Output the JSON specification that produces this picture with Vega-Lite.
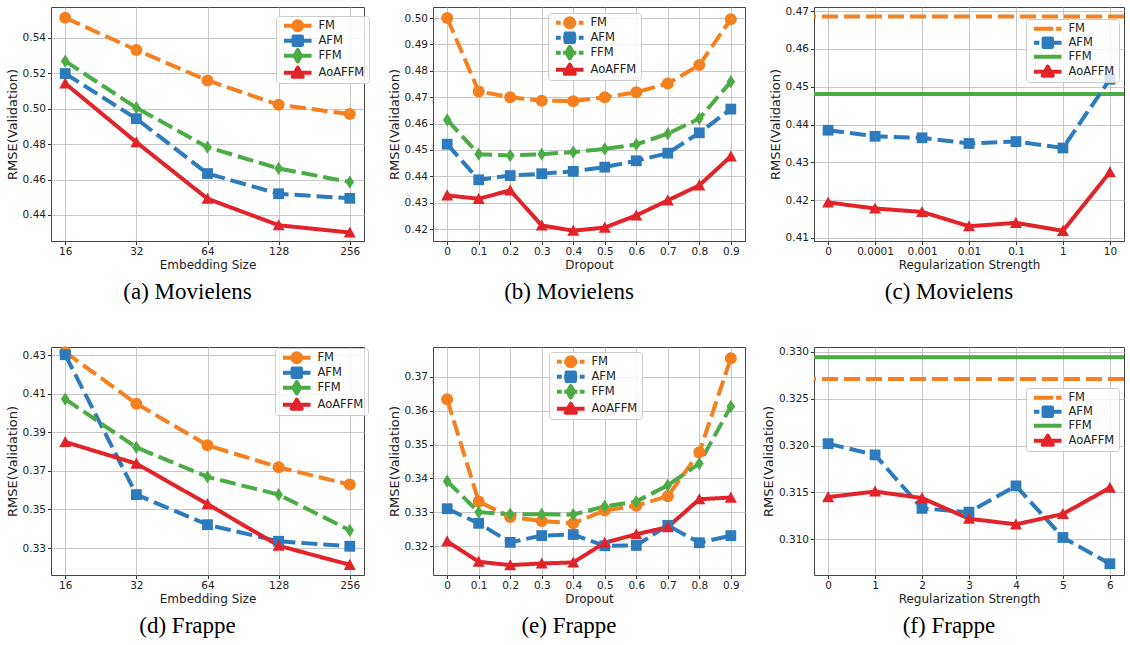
{
"$schema":"https://vega.github.io/schema/vega-lite/v6.json",
"background":"white",
"datasets":{
"a":[
{"s":"FM","x":"16","y":0.5514},{"s":"FM","x":"32","y":0.5332},{"s":"FM","x":"64","y":0.516},{"s":"FM","x":"128","y":0.5023},{"s":"FM","x":"256","y":0.497},
{"s":"AFM","x":"16","y":0.5199},{"s":"AFM","x":"32","y":0.4944},{"s":"AFM","x":"64","y":0.4634},{"s":"AFM","x":"128","y":0.452},{"s":"AFM","x":"256","y":0.4494},
{"s":"FFM","x":"16","y":0.5269},{"s":"FFM","x":"32","y":0.5006},{"s":"FFM","x":"64","y":0.4783},{"s":"FFM","x":"128","y":0.4663},{"s":"FFM","x":"256","y":0.4586},
{"s":"AoAFFM","x":"16","y":0.5143},{"s":"AoAFFM","x":"32","y":0.4811},{"s":"AoAFFM","x":"64","y":0.4492},{"s":"AoAFFM","x":"128","y":0.4342},{"s":"AoAFFM","x":"256","y":0.4301}],
"b":[
{"s":"FM","x":"0","y":0.5},{"s":"FM","x":"0.1","y":0.4722},{"s":"FM","x":"0.2","y":0.47},{"s":"FM","x":"0.3","y":0.4687},{"s":"FM","x":"0.4","y":0.4685},{"s":"FM","x":"0.5","y":0.47},{"s":"FM","x":"0.6","y":0.4719},{"s":"FM","x":"0.7","y":0.4752},{"s":"FM","x":"0.8","y":0.4822},{"s":"FM","x":"0.9","y":0.4996},
{"s":"AFM","x":"0","y":0.4522},{"s":"AFM","x":"0.1","y":0.4387},{"s":"AFM","x":"0.2","y":0.4403},{"s":"AFM","x":"0.3","y":0.441},{"s":"AFM","x":"0.4","y":0.4419},{"s":"AFM","x":"0.5","y":0.4435},{"s":"AFM","x":"0.6","y":0.4459},{"s":"AFM","x":"0.7","y":0.4488},{"s":"AFM","x":"0.8","y":0.4565},{"s":"AFM","x":"0.9","y":0.4655},
{"s":"FFM","x":"0","y":0.4614},{"s":"FFM","x":"0.1","y":0.4484},{"s":"FFM","x":"0.2","y":0.4479},{"s":"FFM","x":"0.3","y":0.4484},{"s":"FFM","x":"0.4","y":0.4492},{"s":"FFM","x":"0.5","y":0.4504},{"s":"FFM","x":"0.6","y":0.4521},{"s":"FFM","x":"0.7","y":0.4562},{"s":"FFM","x":"0.8","y":0.4619},{"s":"FFM","x":"0.9","y":0.4759},
{"s":"AoAFFM","x":"0","y":0.4328},{"s":"AoAFFM","x":"0.1","y":0.4315},{"s":"AoAFFM","x":"0.2","y":0.4347},{"s":"AoAFFM","x":"0.3","y":0.4214},{"s":"AoAFFM","x":"0.4","y":0.4194},{"s":"AoAFFM","x":"0.5","y":0.4206},{"s":"AoAFFM","x":"0.6","y":0.4252},{"s":"AoAFFM","x":"0.7","y":0.4309},{"s":"AoAFFM","x":"0.8","y":0.4366},{"s":"AoAFFM","x":"0.9","y":0.4476}],
"c":[
{"s":"FM","x":"0","y":0.4686},{"s":"FFM","x":"0","y":0.4481},
{"s":"AFM","x":"0","y":0.4385},{"s":"AFM","x":"0.0001","y":0.4369},{"s":"AFM","x":"0.001","y":0.4365},{"s":"AFM","x":"0.01","y":0.435},{"s":"AFM","x":"0.1","y":0.4355},{"s":"AFM","x":"1","y":0.4338},{"s":"AFM","x":"10","y":0.452},
{"s":"AoAFFM","x":"0","y":0.4194},{"s":"AoAFFM","x":"0.0001","y":0.4178},{"s":"AoAFFM","x":"0.001","y":0.4169},{"s":"AoAFFM","x":"0.01","y":0.4131},{"s":"AoAFFM","x":"0.1","y":0.414},{"s":"AoAFFM","x":"1","y":0.4119},{"s":"AoAFFM","x":"10","y":0.4274}],
"d":[
{"s":"FM","x":"16","y":0.4316},{"s":"FM","x":"32","y":0.4049},{"s":"FM","x":"64","y":0.3833},{"s":"FM","x":"128","y":0.3719},{"s":"FM","x":"256","y":0.3629},
{"s":"AFM","x":"16","y":0.4303},{"s":"AFM","x":"32","y":0.3577},{"s":"AFM","x":"64","y":0.3421},{"s":"AFM","x":"128","y":0.3335},{"s":"AFM","x":"256","y":0.3309},
{"s":"FFM","x":"16","y":0.4073},{"s":"FFM","x":"32","y":0.3822},{"s":"FFM","x":"64","y":0.3669},{"s":"FFM","x":"128","y":0.3577},{"s":"FFM","x":"256","y":0.3392},
{"s":"AoAFFM","x":"16","y":0.385},{"s":"AoAFFM","x":"32","y":0.3738},{"s":"AoAFFM","x":"64","y":0.3528},{"s":"AoAFFM","x":"128","y":0.3312},{"s":"AoAFFM","x":"256","y":0.3213}],
"e":[
{"s":"FM","x":"0","y":0.3633},{"s":"FM","x":"0.1","y":0.3332},{"s":"FM","x":"0.2","y":0.3287},{"s":"FM","x":"0.3","y":0.3275},{"s":"FM","x":"0.4","y":0.3268},{"s":"FM","x":"0.5","y":0.3306},{"s":"FM","x":"0.6","y":0.332},{"s":"FM","x":"0.7","y":0.3348},{"s":"FM","x":"0.8","y":0.3477},{"s":"FM","x":"0.9","y":0.3754},
{"s":"AFM","x":"0","y":0.3311},{"s":"AFM","x":"0.1","y":0.3268},{"s":"AFM","x":"0.2","y":0.3212},{"s":"AFM","x":"0.3","y":0.3232},{"s":"AFM","x":"0.4","y":0.3235},{"s":"AFM","x":"0.5","y":0.3202},{"s":"AFM","x":"0.6","y":0.3203},{"s":"AFM","x":"0.7","y":0.3262},{"s":"AFM","x":"0.8","y":0.3211},{"s":"AFM","x":"0.9","y":0.3232},
{"s":"FFM","x":"0","y":0.3392},{"s":"FFM","x":"0.1","y":0.3301},{"s":"FFM","x":"0.2","y":0.3295},{"s":"FFM","x":"0.3","y":0.3295},{"s":"FFM","x":"0.4","y":0.3294},{"s":"FFM","x":"0.5","y":0.3318},{"s":"FFM","x":"0.6","y":0.3332},{"s":"FFM","x":"0.7","y":0.338},{"s":"FFM","x":"0.8","y":0.3444},{"s":"FFM","x":"0.9","y":0.3612},
{"s":"AoAFFM","x":"0","y":0.3215},{"s":"AoAFFM","x":"0.1","y":0.3155},{"s":"AoAFFM","x":"0.2","y":0.3145},{"s":"AoAFFM","x":"0.3","y":0.315},{"s":"AoAFFM","x":"0.4","y":0.3153},{"s":"AoAFFM","x":"0.5","y":0.3211},{"s":"AoAFFM","x":"0.6","y":0.3236},{"s":"AoAFFM","x":"0.7","y":0.3257},{"s":"AoAFFM","x":"0.8","y":0.3339},{"s":"AoAFFM","x":"0.9","y":0.3344}],
"f":[
{"s":"FFM","x":"0","y":0.3294},{"s":"FM","x":"0","y":0.3271},
{"s":"AFM","x":"0","y":0.3202},{"s":"AFM","x":"1","y":0.319},{"s":"AFM","x":"2","y":0.3133},{"s":"AFM","x":"3","y":0.3129},{"s":"AFM","x":"4","y":0.3157},{"s":"AFM","x":"5","y":0.3102},{"s":"AFM","x":"6","y":0.3074},
{"s":"AoAFFM","x":"0","y":0.3145},{"s":"AoAFFM","x":"1","y":0.3151},{"s":"AoAFFM","x":"2","y":0.3144},{"s":"AoAFFM","x":"3","y":0.3122},{"s":"AoAFFM","x":"4","y":0.3116},{"s":"AoAFFM","x":"5","y":0.3127},{"s":"AoAFFM","x":"6","y":0.3155}]
},
"concat":[
{"width":313,"height":234,"data":{"name":"a"},"title":"(a) Movielens",
 "encoding":{"y":{"field":"y","type":"quantitative","scale":{"domain":[0.4253,0.5575],"nice":false,"zero":false},"axis":{"title":"RMSE(Validation)","values":[0.44,0.46,0.48,0.5,0.52,0.54],"format":".2f"}}},
 "layer":[
  {"mark":{"type":"line","strokeWidth":4},"encoding":{"x":{"field":"x","type":"ordinal","sort":null,"scale":{"type":"point","padding":0.2,"domain":["16","32","64","128","256"]},"axis":{"title":"Embedding Size"}},"color":{"field":"s","type":"nominal","scale":{"domain":["FM","AFM","FFM","AoAFFM"],"range":["#f5801f","#2d7bbd","#4bab45","#e2232a"]},"legend":null},"strokeDash":{"field":"s","type":"nominal","scale":{"domain":["FM","AFM","FFM","AoAFFM"],"range":[[16,6],[16,6],[16,6],[1,0]]},"legend":null}}},
  {"mark":{"type":"point","filled":true,"opacity":1,"size":144},"encoding":{"x":{"field":"x","type":"ordinal","sort":null,"scale":{"type":"point","padding":0.2,"domain":["16","32","64","128","256"]},"axis":{"title":"Embedding Size"}},"color":{"field":"s","type":"nominal","scale":{"domain":["FM","AFM","FFM","AoAFFM"],"range":["#f5801f","#2d7bbd","#4bab45","#e2232a"]},"legend":null},"shape":{"field":"s","type":"nominal","scale":{"domain":["FM","AFM","FFM","AoAFFM"],"range":["circle","M-0.9,-0.9H0.9V0.9H-0.9Z","M0,-1.1L0.72,0L0,1.1L-0.72,0Z","M0,-1L1,0.85L-1,0.85Z"]},"legend":null}}},
  {"transform":[{"filter":"false"}],"mark":{"type":"point","filled":true},"encoding":{
   "fill":{"field":"s","type":"nominal","scale":{"domain":["FM","AFM","FFM","AoAFFM"],"range":["#f5801f","#2d7bbd","#4bab45","#e2232a"]},"legend":{"orient":"none","legendX":225,"legendY":9,"title":null,"encode":{"symbols":{"update":{"strokeJoin":{"value":"round"}}}}}},
   "stroke":{"field":"s","type":"nominal","scale":{"domain":["FM","AFM","FFM","AoAFFM"],"range":["#f5801f","#2d7bbd","#4bab45","#e2232a"]},"legend":{"orient":"none","legendX":225,"legendY":9,"title":null,"encode":{"symbols":{"update":{"strokeJoin":{"value":"round"}}}}}},
   "shape":{"field":"s","type":"nominal","scale":{"domain":["FM","AFM","FFM","AoAFFM"],"range":["M-4.6,0H4.6M1.5,0A1.5,1.5,0,1,1,-1.5,0A1.5,1.5,0,1,1,1.5,0Z","M-4.6,0H4.6M-1.4,-1.4H1.4V1.4H-1.4Z","M-4.6,0H4.6M0,-1.9L1.1,0L0,1.9L-1.1,0Z","M-4.6,0H4.6M0,-1.7L1.7,1.3L-1.7,1.3Z"]},"legend":{"orient":"none","legendX":225,"legendY":9,"title":null,"encode":{"symbols":{"update":{"strokeJoin":{"value":"round"}}}}}}}}
 ],
 "resolve":{"scale":{"shape":"independent","fill":"independent","stroke":"independent"}}},
{"width":312,"height":234,"data":{"name":"b"},"title":"(b) Movielens",
 "encoding":{"y":{"field":"y","type":"quantitative","scale":{"domain":[0.4155,0.5042],"nice":false,"zero":false},"axis":{"title":"RMSE(Validation)","values":[0.42,0.43,0.44,0.45,0.46,0.47,0.48,0.49,0.5],"format":".2f"}}},
 "layer":[
  {"mark":{"type":"line","strokeWidth":4},"encoding":{"x":{"field":"x","type":"ordinal","sort":null,"scale":{"type":"point","padding":0.45,"domain":["0","0.1","0.2","0.3","0.4","0.5","0.6","0.7","0.8","0.9"]},"axis":{"title":"Dropout"}},"color":{"field":"s","type":"nominal","scale":{"domain":["FM","AFM","FFM","AoAFFM"],"range":["#f5801f","#2d7bbd","#4bab45","#e2232a"]},"legend":null},"strokeDash":{"field":"s","type":"nominal","scale":{"domain":["FM","AFM","FFM","AoAFFM"],"range":[[16,6],[16,6],[16,6],[1,0]]},"legend":null}}},
  {"mark":{"type":"point","filled":true,"opacity":1,"size":144},"encoding":{"x":{"field":"x","type":"ordinal","sort":null,"scale":{"type":"point","padding":0.45,"domain":["0","0.1","0.2","0.3","0.4","0.5","0.6","0.7","0.8","0.9"]},"axis":{"title":"Dropout"}},"color":{"field":"s","type":"nominal","scale":{"domain":["FM","AFM","FFM","AoAFFM"],"range":["#f5801f","#2d7bbd","#4bab45","#e2232a"]},"legend":null},"shape":{"field":"s","type":"nominal","scale":{"domain":["FM","AFM","FFM","AoAFFM"],"range":["circle","M-0.9,-0.9H0.9V0.9H-0.9Z","M0,-1.1L0.72,0L0,1.1L-0.72,0Z","M0,-1L1,0.85L-1,0.85Z"]},"legend":null}}},
  {"transform":[{"filter":"false"}],"mark":{"type":"point","filled":true},"encoding":{
   "fill":{"field":"s","type":"nominal","scale":{"domain":["FM","AFM","FFM","AoAFFM"],"range":["#f5801f","#2d7bbd","#4bab45","#e2232a"]},"legend":{"orient":"none","legendX":115,"legendY":6,"title":null,"encode":{"symbols":{"update":{"strokeJoin":{"value":"round"}}}}}},
   "stroke":{"field":"s","type":"nominal","scale":{"domain":["FM","AFM","FFM","AoAFFM"],"range":["#f5801f","#2d7bbd","#4bab45","#e2232a"]},"legend":{"orient":"none","legendX":115,"legendY":6,"title":null,"encode":{"symbols":{"update":{"strokeJoin":{"value":"round"}}}}}},
   "shape":{"field":"s","type":"nominal","scale":{"domain":["FM","AFM","FFM","AoAFFM"],"range":["M-4.6,0H-3M-2.2,0H2.2M3,0H4.6M1.5,0A1.5,1.5,0,1,1,-1.5,0A1.5,1.5,0,1,1,1.5,0Z","M-4.6,0H-3M-2.2,0H2.2M3,0H4.6M-1.4,-1.4H1.4V1.4H-1.4Z","M-4.6,0H-3M-2.2,0H2.2M3,0H4.6M0,-1.9L1.1,0L0,1.9L-1.1,0Z","M-4.6,0H4.6M0,-1.7L1.7,1.3L-1.7,1.3Z"]},"legend":{"orient":"none","legendX":115,"legendY":6,"title":null,"encode":{"symbols":{"update":{"strokeJoin":{"value":"round"}}}}}}}}
 ],
 "resolve":{"scale":{"shape":"independent","fill":"independent","stroke":"independent"}}},
{"width":310,"height":234,"data":{"name":"c"},"title":"(c) Movielens",
 "encoding":{"y":{"field":"y","type":"quantitative","scale":{"domain":[0.4092,0.4711],"nice":false,"zero":false},"axis":{"title":"RMSE(Validation)","values":[0.41,0.42,0.43,0.44,0.45,0.46,0.47],"format":".2f"}}},
 "layer":[
  {"transform":[{"filter":"datum.s==='FM'||datum.s==='FFM'"}],"mark":{"type":"rule","strokeWidth":4},"encoding":{"color":{"field":"s","type":"nominal","scale":{"domain":["FM","AFM","FFM","AoAFFM"],"range":["#f5801f","#2d7bbd","#4bab45","#e2232a"]},"legend":null},"strokeDash":{"field":"s","type":"nominal","scale":{"domain":["FM","AFM","FFM","AoAFFM"],"range":[[16,6],[16,6],[1,0],[1,0]]},"legend":null}}},
  {"transform":[{"filter":"datum.s==='AFM'||datum.s==='AoAFFM'"}],"mark":{"type":"line","strokeWidth":4},"encoding":{"x":{"field":"x","type":"ordinal","sort":null,"scale":{"type":"point","padding":0.3,"domain":["0","0.0001","0.001","0.01","0.1","1","10"]},"axis":{"title":"Regularization Strength"}},"color":{"field":"s","type":"nominal","scale":{"domain":["FM","AFM","FFM","AoAFFM"],"range":["#f5801f","#2d7bbd","#4bab45","#e2232a"]},"legend":null},"strokeDash":{"field":"s","type":"nominal","scale":{"domain":["FM","AFM","FFM","AoAFFM"],"range":[[16,6],[16,6],[1,0],[1,0]]},"legend":null}}},
  {"transform":[{"filter":"datum.s==='AFM'||datum.s==='AoAFFM'"}],"mark":{"type":"point","filled":true,"opacity":1,"size":144},"encoding":{"x":{"field":"x","type":"ordinal","sort":null,"scale":{"type":"point","padding":0.3,"domain":["0","0.0001","0.001","0.01","0.1","1","10"]},"axis":{"title":"Regularization Strength"}},"color":{"field":"s","type":"nominal","scale":{"domain":["FM","AFM","FFM","AoAFFM"],"range":["#f5801f","#2d7bbd","#4bab45","#e2232a"]},"legend":null},"shape":{"field":"s","type":"nominal","scale":{"domain":["FM","AFM","FFM","AoAFFM"],"range":["circle","M-0.9,-0.9H0.9V0.9H-0.9Z","M0,-1.1L0.72,0L0,1.1L-0.72,0Z","M0,-1L1,0.85L-1,0.85Z"]},"legend":null}}},
  {"transform":[{"filter":"false"}],"mark":{"type":"point","filled":true},"encoding":{
   "fill":{"field":"s","type":"nominal","scale":{"domain":["FM","AFM","FFM","AoAFFM"],"range":["#f5801f","#2d7bbd","#4bab45","#e2232a"]},"legend":{"orient":"none","legendX":212,"legendY":12,"title":null,"encode":{"symbols":{"update":{"strokeJoin":{"value":"round"}}}}}},
   "stroke":{"field":"s","type":"nominal","scale":{"domain":["FM","AFM","FFM","AoAFFM"],"range":["#f5801f","#2d7bbd","#4bab45","#e2232a"]},"legend":{"orient":"none","legendX":212,"legendY":12,"title":null,"encode":{"symbols":{"update":{"strokeJoin":{"value":"round"}}}}}},
   "shape":{"field":"s","type":"nominal","scale":{"domain":["FM","AFM","FFM","AoAFFM"],"range":["M-4.6,0H1.8M2.8,0H4.6","M-4.6,0H-2.8M-1.8,0H4.6M-1.4,-1.4H1.4V1.4H-1.4Z","M-4.6,0H4.6","M-4.6,0H4.6M0,-1.7L1.7,1.3L-1.7,1.3Z"]},"legend":{"orient":"none","legendX":212,"legendY":12,"title":null,"encode":{"symbols":{"update":{"strokeJoin":{"value":"round"}}}}}}}}
 ],
 "resolve":{"scale":{"shape":"independent","fill":"independent","stroke":"independent"}}},
{"width":313,"height":228,"data":{"name":"d"},"title":"(d) Frappe",
 "encoding":{"y":{"field":"y","type":"quantitative","scale":{"domain":[0.316,0.4343],"nice":false,"zero":false},"axis":{"title":"RMSE(Validation)","values":[0.33,0.35,0.37,0.39,0.41,0.43],"format":".2f"}}},
 "layer":[
  {"mark":{"type":"line","strokeWidth":4},"encoding":{"x":{"field":"x","type":"ordinal","sort":null,"scale":{"type":"point","padding":0.2,"domain":["16","32","64","128","256"]},"axis":{"title":"Embedding Size"}},"color":{"field":"s","type":"nominal","scale":{"domain":["FM","AFM","FFM","AoAFFM"],"range":["#f5801f","#2d7bbd","#4bab45","#e2232a"]},"legend":null},"strokeDash":{"field":"s","type":"nominal","scale":{"domain":["FM","AFM","FFM","AoAFFM"],"range":[[16,6],[16,6],[16,6],[1,0]]},"legend":null}}},
  {"mark":{"type":"point","filled":true,"opacity":1,"size":144},"encoding":{"x":{"field":"x","type":"ordinal","sort":null,"scale":{"type":"point","padding":0.2,"domain":["16","32","64","128","256"]},"axis":{"title":"Embedding Size"}},"color":{"field":"s","type":"nominal","scale":{"domain":["FM","AFM","FFM","AoAFFM"],"range":["#f5801f","#2d7bbd","#4bab45","#e2232a"]},"legend":null},"shape":{"field":"s","type":"nominal","scale":{"domain":["FM","AFM","FFM","AoAFFM"],"range":["circle","M-0.9,-0.9H0.9V0.9H-0.9Z","M0,-1.1L0.72,0L0,1.1L-0.72,0Z","M0,-1L1,0.85L-1,0.85Z"]},"legend":null}}},
  {"transform":[{"filter":"false"}],"mark":{"type":"point","filled":true},"encoding":{
   "fill":{"field":"s","type":"nominal","scale":{"domain":["FM","AFM","FFM","AoAFFM"],"range":["#f5801f","#2d7bbd","#4bab45","#e2232a"]},"legend":{"orient":"none","legendX":224,"legendY":1,"title":null,"encode":{"symbols":{"update":{"strokeJoin":{"value":"round"}}}}}},
   "stroke":{"field":"s","type":"nominal","scale":{"domain":["FM","AFM","FFM","AoAFFM"],"range":["#f5801f","#2d7bbd","#4bab45","#e2232a"]},"legend":{"orient":"none","legendX":224,"legendY":1,"title":null,"encode":{"symbols":{"update":{"strokeJoin":{"value":"round"}}}}}},
   "shape":{"field":"s","type":"nominal","scale":{"domain":["FM","AFM","FFM","AoAFFM"],"range":["M-4.6,0H4.6M1.5,0A1.5,1.5,0,1,1,-1.5,0A1.5,1.5,0,1,1,1.5,0Z","M-4.6,0H4.6M-1.4,-1.4H1.4V1.4H-1.4Z","M-4.6,0H4.6M0,-1.9L1.1,0L0,1.9L-1.1,0Z","M-4.6,0H4.6M0,-1.7L1.7,1.3L-1.7,1.3Z"]},"legend":{"orient":"none","legendX":224,"legendY":1,"title":null,"encode":{"symbols":{"update":{"strokeJoin":{"value":"round"}}}}}}}}
 ],
 "resolve":{"scale":{"shape":"independent","fill":"independent","stroke":"independent"}}},
{"width":312,"height":228,"data":{"name":"e"},"title":"(e) Frappe",
 "encoding":{"y":{"field":"y","type":"quantitative","scale":{"domain":[0.3116,0.3787],"nice":false,"zero":false},"axis":{"title":"RMSE(Validation)","values":[0.32,0.33,0.34,0.35,0.36,0.37],"format":".2f"}}},
 "layer":[
  {"mark":{"type":"line","strokeWidth":4},"encoding":{"x":{"field":"x","type":"ordinal","sort":null,"scale":{"type":"point","padding":0.45,"domain":["0","0.1","0.2","0.3","0.4","0.5","0.6","0.7","0.8","0.9"]},"axis":{"title":"Dropout"}},"color":{"field":"s","type":"nominal","scale":{"domain":["FM","AFM","FFM","AoAFFM"],"range":["#f5801f","#2d7bbd","#4bab45","#e2232a"]},"legend":null},"strokeDash":{"field":"s","type":"nominal","scale":{"domain":["FM","AFM","FFM","AoAFFM"],"range":[[16,6],[16,6],[16,6],[1,0]]},"legend":null}}},
  {"mark":{"type":"point","filled":true,"opacity":1,"size":144},"encoding":{"x":{"field":"x","type":"ordinal","sort":null,"scale":{"type":"point","padding":0.45,"domain":["0","0.1","0.2","0.3","0.4","0.5","0.6","0.7","0.8","0.9"]},"axis":{"title":"Dropout"}},"color":{"field":"s","type":"nominal","scale":{"domain":["FM","AFM","FFM","AoAFFM"],"range":["#f5801f","#2d7bbd","#4bab45","#e2232a"]},"legend":null},"shape":{"field":"s","type":"nominal","scale":{"domain":["FM","AFM","FFM","AoAFFM"],"range":["circle","M-0.9,-0.9H0.9V0.9H-0.9Z","M0,-1.1L0.72,0L0,1.1L-0.72,0Z","M0,-1L1,0.85L-1,0.85Z"]},"legend":null}}},
  {"transform":[{"filter":"false"}],"mark":{"type":"point","filled":true},"encoding":{
   "fill":{"field":"s","type":"nominal","scale":{"domain":["FM","AFM","FFM","AoAFFM"],"range":["#f5801f","#2d7bbd","#4bab45","#e2232a"]},"legend":{"orient":"none","legendX":116,"legendY":5,"title":null,"encode":{"symbols":{"update":{"strokeJoin":{"value":"round"}}}}}},
   "stroke":{"field":"s","type":"nominal","scale":{"domain":["FM","AFM","FFM","AoAFFM"],"range":["#f5801f","#2d7bbd","#4bab45","#e2232a"]},"legend":{"orient":"none","legendX":116,"legendY":5,"title":null,"encode":{"symbols":{"update":{"strokeJoin":{"value":"round"}}}}}},
   "shape":{"field":"s","type":"nominal","scale":{"domain":["FM","AFM","FFM","AoAFFM"],"range":["M-4.6,0H-3M-2.2,0H2.2M3,0H4.6M1.5,0A1.5,1.5,0,1,1,-1.5,0A1.5,1.5,0,1,1,1.5,0Z","M-4.6,0H-3M-2.2,0H2.2M3,0H4.6M-1.4,-1.4H1.4V1.4H-1.4Z","M-4.6,0H-3M-2.2,0H2.2M3,0H4.6M0,-1.9L1.1,0L0,1.9L-1.1,0Z","M-4.6,0H4.6M0,-1.7L1.7,1.3L-1.7,1.3Z"]},"legend":{"orient":"none","legendX":116,"legendY":5,"title":null,"encode":{"symbols":{"update":{"strokeJoin":{"value":"round"}}}}}}}}
 ],
 "resolve":{"scale":{"shape":"independent","fill":"independent","stroke":"independent"}}},
{"width":310,"height":228,"data":{"name":"f"},"title":"(f) Frappe",
 "encoding":{"y":{"field":"y","type":"quantitative","scale":{"domain":[0.3062,0.3305],"nice":false,"zero":false},"axis":{"title":"RMSE(Validation)","values":[0.31,0.315,0.32,0.325,0.33],"format":".3f"}}},
 "layer":[
  {"transform":[{"filter":"datum.s==='FM'||datum.s==='FFM'"}],"mark":{"type":"rule","strokeWidth":4},"encoding":{"color":{"field":"s","type":"nominal","scale":{"domain":["FM","AFM","FFM","AoAFFM"],"range":["#f5801f","#2d7bbd","#4bab45","#e2232a"]},"legend":null},"strokeDash":{"field":"s","type":"nominal","scale":{"domain":["FM","AFM","FFM","AoAFFM"],"range":[[16,6],[16,6],[1,0],[1,0]]},"legend":null}}},
  {"transform":[{"filter":"datum.s==='AFM'||datum.s==='AoAFFM'"}],"mark":{"type":"line","strokeWidth":4},"encoding":{"x":{"field":"x","type":"ordinal","sort":null,"scale":{"type":"point","padding":0.3,"domain":["0","1","2","3","4","5","6"]},"axis":{"title":"Regularization Strength"}},"color":{"field":"s","type":"nominal","scale":{"domain":["FM","AFM","FFM","AoAFFM"],"range":["#f5801f","#2d7bbd","#4bab45","#e2232a"]},"legend":null},"strokeDash":{"field":"s","type":"nominal","scale":{"domain":["FM","AFM","FFM","AoAFFM"],"range":[[16,6],[16,6],[1,0],[1,0]]},"legend":null}}},
  {"transform":[{"filter":"datum.s==='AFM'||datum.s==='AoAFFM'"}],"mark":{"type":"point","filled":true,"opacity":1,"size":144},"encoding":{"x":{"field":"x","type":"ordinal","sort":null,"scale":{"type":"point","padding":0.3,"domain":["0","1","2","3","4","5","6"]},"axis":{"title":"Regularization Strength"}},"color":{"field":"s","type":"nominal","scale":{"domain":["FM","AFM","FFM","AoAFFM"],"range":["#f5801f","#2d7bbd","#4bab45","#e2232a"]},"legend":null},"shape":{"field":"s","type":"nominal","scale":{"domain":["FM","AFM","FFM","AoAFFM"],"range":["circle","M-0.9,-0.9H0.9V0.9H-0.9Z","M0,-1.1L0.72,0L0,1.1L-0.72,0Z","M0,-1L1,0.85L-1,0.85Z"]},"legend":null}}},
  {"transform":[{"filter":"false"}],"mark":{"type":"point","filled":true},"encoding":{
   "fill":{"field":"s","type":"nominal","scale":{"domain":["FM","AFM","FFM","AoAFFM"],"range":["#f5801f","#2d7bbd","#4bab45","#e2232a"]},"legend":{"orient":"none","legendX":212,"legendY":41,"title":null,"encode":{"symbols":{"update":{"strokeJoin":{"value":"round"}}}}}},
   "stroke":{"field":"s","type":"nominal","scale":{"domain":["FM","AFM","FFM","AoAFFM"],"range":["#f5801f","#2d7bbd","#4bab45","#e2232a"]},"legend":{"orient":"none","legendX":212,"legendY":41,"title":null,"encode":{"symbols":{"update":{"strokeJoin":{"value":"round"}}}}}},
   "shape":{"field":"s","type":"nominal","scale":{"domain":["FM","AFM","FFM","AoAFFM"],"range":["M-4.6,0H1.8M2.8,0H4.6","M-4.6,0H-2.8M-1.8,0H4.6M-1.4,-1.4H1.4V1.4H-1.4Z","M-4.6,0H4.6","M-4.6,0H4.6M0,-1.7L1.7,1.3L-1.7,1.3Z"]},"legend":{"orient":"none","legendX":212,"legendY":41,"title":null,"encode":{"symbols":{"update":{"strokeJoin":{"value":"round"}}}}}}}}
 ],
 "resolve":{"scale":{"shape":"independent","fill":"independent","stroke":"independent"}}}
],
"columns":3,
"spacing":{"row":106,"column":69},
"bounds":"flush",
"resolve":{"scale":{"color":"independent","strokeDash":"independent","shape":"independent","fill":"independent","stroke":"independent"},"legend":{"color":"independent","strokeDash":"independent","shape":"independent","fill":"independent","stroke":"independent"}},
"config":{
 "view":{"stroke":"#444","strokeWidth":1},
 "axis":{"labelFont":"DejaVu Sans","labelFontSize":10.5,"labelColor":"#222","titleFont":"DejaVu Sans","titleFontWeight":"normal","titleColor":"#222","domain":false,"tickColor":"#333","tickSize":3.5,"tickWidth":1,"gridColor":"#c8c8c8","gridWidth":1,"labelPadding":2,"grid":true},
 "axisX":{"titleFontSize":12,"titlePadding":2,"labelAngle":0},
 "axisY":{"titleFontSize":13,"titlePadding":3},
 "legend":{"labelFont":"DejaVu Sans","labelFontSize":11.5,"labelColor":"#222","symbolSize":36,"symbolStrokeWidth":4,"symbolOpacity":1,"rowPadding":1,"padding":4,"fillColor":"rgba(255,255,255,0.8)","strokeColor":"#cccccc","cornerRadius":3,"symbolOffset":12,"labelOffset":15},
 "title":{"orient":"bottom","font":"Liberation Serif","fontSize":23,"fontWeight":"normal","color":"#000","offset":11,"anchor":"middle","dx":-20}
}
}
